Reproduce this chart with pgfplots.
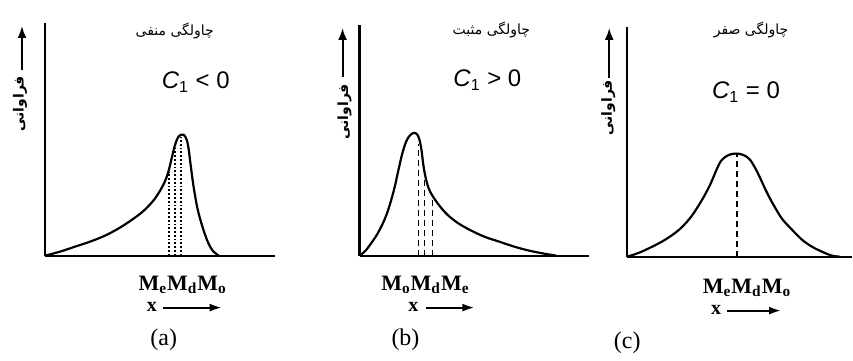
\documentclass[border=0pt]{standalone}
\usepackage{pgfplots}
\pgfplotsset{compat=1.18}
\usepackage{fontspec}
\setmainfont{Liberation Serif}
\newfontfamily\sansf{Liberation Sans}
\newfontfamily\arabicfont[Script=Arabic]{DejaVu Sans}
\TeXXeTstate=1
\usetikzlibrary{arrows.meta}
\newcommand{\fa}[1]{{\arabicfont\beginR #1\endR}}
\begin{document}
\begin{tikzpicture}[x=0.5pt,y=-0.5pt]
\path (0,0) rectangle (853,355);
\pgfplotsset{
  skew/.style={
    scale only axis, axis lines*=left, axis line style={line width=1.1pt},
    xtick=\empty, ytick=\empty, xmin=0, ymin=0, clip=false,
  },
  curve/.style={smooth, tension=0.55, line width=1.1pt, black, no marks},
  vline/.style={densely dashed, line width=0.9pt, black, no marks},
}
% ---------- (a) ----------
\begin{axis}[skew, at={(22.5pt,-128pt)}, anchor=origin, width=115pt, height=116.5pt, xmax=230, ymax=233]
\addplot[curve] coordinates {(0,0)(15,4)(30,9)(45,14)(60,20)(75,28)(90,38)(100,46)(110,57)(118,70)(123,82)(127,98)(130,110)(133,118)(136,121)(139,121)(142,116)(144,106)(146,90)(149,68)(153,46)(158,28)(163,14)(168,5)(174,0)};
\addplot[vline, densely dotted, line width=1.2pt] coordinates {(124,0)(124,84)};
\addplot[vline, densely dotted, line width=1.2pt] coordinates {(130,0)(130,108)};
\addplot[vline, densely dotted, line width=1.2pt] coordinates {(136,0)(136,119)};
\end{axis}
% ---------- (b) ----------
\begin{axis}[skew, at={(180pt,-128pt)}, anchor=origin, width=115pt, height=115.5pt, xmax=230, ymax=231]
\addplot[curve] coordinates {(0,0)(6,5)(12,13)(18,22)(25,36)(30,50)(35,68)(39,86)(43,103)(47,115)(51,121)(55,123)(58,121)(60,116)(62,106)(64,90)(66,79)(69,68)(73,60)(80,50)(88,41)(98,33)(110,26)(125,19)(140,14)(155,9)(170,5)(185,2)(197,0)};
\addplot[vline] coordinates {(59,0)(59,112)};
\addplot[vline] coordinates {(65,0)(65,84)};
\addplot[vline] coordinates {(73,0)(73,59)};
\end{axis}
% ---------- (c) ----------
\begin{axis}[skew, at={(314pt,-128.5pt)}, anchor=origin, width=112.5pt, height=115pt, xmax=225, ymax=230]
\addplot[curve] coordinates {(0,0)(12,4)(25,10)(38,17)(52,27)(64,40)(75,57)(83,72)(89,86)(94,96)(100,101)(106,103)(112,103)(118,101)(123,97)(128,89)(133,79)(140,64)(147,51)(155,38)(165,27)(175,17)(185,10)(195,5)(205,1)(213,0)};
\addplot[vline] coordinates {(110,0)(110,103)};
\end{axis}
% ---------- texts ----------
\tikzset{yarr/.style={line width=1pt, -{Latex[length=6pt,width=4.5pt]}},
         xarr/.style={line width=1pt, -{Latex[length=6pt,width=4pt]}}}
% titles
\node at (175,31) {\fontsize{7}{8}\selectfont\fa{چاولگی منفی}};
\node at (492,30) {\fontsize{7}{8}\selectfont\fa{چاولگی مثبت}};
\node at (752,30) {\fontsize{7}{8}\selectfont\fa{چاولگی صفر}};
% C1
\node at (196,82) {\fontsize{12}{14}\selectfont\sansf{\itshape C}\textsubscript{1} < 0};
\node at (488,80) {\fontsize{12}{14}\selectfont\sansf{\itshape C}\textsubscript{1} > 0};
\node at (747,92) {\fontsize{12}{14}\selectfont\sansf{\itshape C}\textsubscript{1} = 0};
% y arrows and labels
\draw[yarr] (22,70) -- (22,26);
\draw[yarr] (343,77) -- (343,28);
\draw[yarr] (610,78) -- (610,28);
\node[rotate=90] at (20,104) {\fontsize{7}{8}\selectfont\bfseries\fa{فراوانی}};
\node[rotate=90] at (345,112) {\fontsize{7}{8}\selectfont\bfseries\fa{فراوانی}};
\node[rotate=90] at (609,108) {\fontsize{7}{8}\selectfont\bfseries\fa{فراوانی}};
% M labels
\node at (183,285) {\fontsize{11}{12}\selectfont\bfseries M\textsubscript{e}M\textsubscript{d}M\textsubscript{o}};
\node at (426,285) {\fontsize{11}{12}\selectfont\bfseries M\textsubscript{o}M\textsubscript{d}M\textsubscript{e}};
\node at (748,288) {\fontsize{11}{12}\selectfont\bfseries M\textsubscript{e}M\textsubscript{d}M\textsubscript{o}};
% x arrows
\node at (152,307) {\fontsize{10}{12}\selectfont\bfseries x};
\draw[xarr] (163,308) -- (222,308);
\node at (414,307) {\fontsize{10}{12}\selectfont\bfseries x};
\draw[xarr] (427,308) -- (475,308);
\node at (717,310) {\fontsize{10}{12}\selectfont\bfseries x};
\draw[xarr] (728,311) -- (782,311);
% captions
\node at (164,340) {\fontsize{12}{14}\selectfont (a)};
\node at (406,340) {\fontsize{12}{14}\selectfont (b)};
\node at (628,343) {\fontsize{12}{14}\selectfont (c)};
\end{tikzpicture}
\end{document}
